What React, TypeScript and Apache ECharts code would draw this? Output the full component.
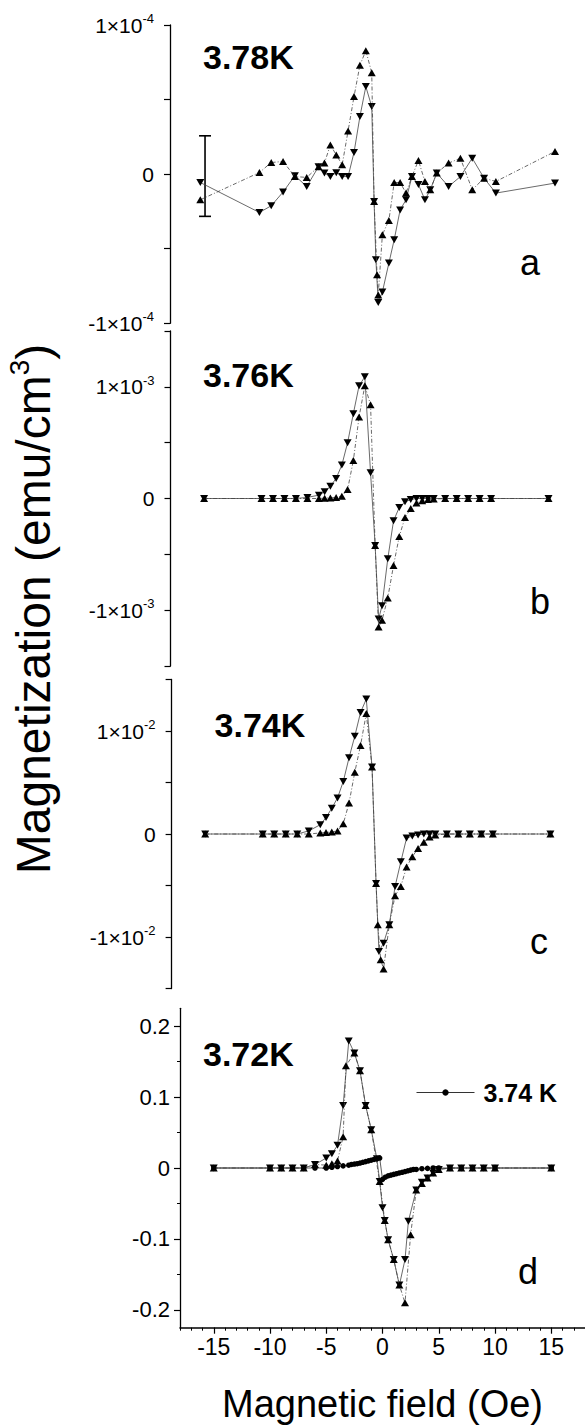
import React, { useEffect, useRef } from "react";
import * as echarts from "echarts";

const FONT = "'Liberation Sans', Arial, Helvetica, sans-serif";

// ---------- Panel a (3.78 K), magnetization in units of 1e-5 emu/cm3 ----------
const aUpX = [-15, -10, -9, -8, -7, -6, -5, -4.5, -4, -3.5, -3, -2.5, -2, -1.5, -1, -0.5, -0.3, -0.05, 0.05, 0.4, 0.95, 1.4, 1.9, 2.4, 2.9, 3.45, 4.0, 4.45, 5, 6, 7, 8, 9, 10, 15];
const aUpY = [-1.72, 0.11, 0.78, 0.85, -0.16, -0.22, 0.5, 0.74, 1.96, 1.29, 0.63, 2.9, 5.2, 7.3, 8.28, 6.8, -1.83, -6.74, -8.1, -4.06, -3.1, -0.56, -0.56, -1.27, -0.16, 0.92, -0.5, -1.05, 0.07, 0.74, 1.07, -1.05, -0.27, -0.49, 1.52];
const aDownX = [-15, -10, -9, -8, -7, -6, -5, -4.5, -4, -3.5, -3, -2.5, -2, -1.5, -1, -0.5, -0.3, -0.15, 0.05, 0.4, 0.95, 1.4, 1.9, 2.4, 2.9, 3.45, 4.0, 4.45, 5, 6, 7, 8, 9, 10, 15];
const aDownY = [-0.56, -2.57, -2.12, -1.2, -0.1, -0.83, 0.5, 0.07, -0.16, 0.1, -0.16, -0.16, 1.45, 3.86, 5.87, 4.53, -1.83, -5.74, -8.6, -7.9, -5.96, -4.4, -2.4, -1.72, -0.16, -0.7, -1.72, -1.05, 0.07, -0.83, -0.16, 1.07, -0.27, -1.27, -0.6];
// error bar: x, low, high (units 1e-5)
const aErrX = [-14.6];
const aErrLow = [-2.83];
const aErrHigh = [2.57];

// ---------- Panel b (3.76 K), units of 1e-3 ----------
const bX = [-15, -10, -9, -8, -7, -6, -5, -4.5, -4, -3.5, -3, -2.5, -2, -1.5, -1, -0.5, -0.1, 0.2, 0.5, 1, 1.5, 2, 2.5, 3, 3.5, 4, 4.5, 5, 6, 7, 8, 9, 10, 15];
const bUpY = [0, 0, 0, 0, 0, 0, 0, 0.003, 0.005, 0.01, 0.02, 0.08, 0.34, 0.73, 1.01, 0.84, -0.42, -1.15, -1.09, -0.89, -0.6, -0.34, -0.17, -0.09, -0.04, -0.02, -0.01, -0.005, 0, 0, 0, 0, 0, 0];
const bDownY = [0, 0, 0, 0, 0, 0.01, 0.03, 0.06, 0.11, 0.18, 0.3, 0.5, 0.76, 1.01, 1.09, 0.23, -0.42, -1.08, -0.96, -0.54, -0.2, -0.08, -0.03, -0.01, 0, 0, 0, 0, 0, 0, 0, 0, 0, 0];

// ---------- Panel c (3.74 K), units of 1e-2 ----------
const cUpX = [-15, -10, -9, -8, -7, -6, -5, -4.5, -4, -3.5, -3, -2.5, -2, -1.5, -1, -0.5, -0.15, 0, 0.25, 0.5, 1, 1.5, 2, 2.5, 3, 3.5, 4, 4.5, 5, 6, 7, 8, 9, 10, 15];
const cUpY = [0, 0, 0, 0, 0, 0, 0.01, 0.015, 0.02, 0.03, 0.1, 0.3, 0.6, 0.86, 1.17, 0.65, -0.48, -0.88, -1.22, -1.31, -0.88, -0.6, -0.51, -0.32, -0.22, -0.14, -0.08, -0.03, -0.01, 0, 0, 0, 0, 0, 0];
const cDownX = [-15, -10, -9, -8, -7, -6, -5, -4.5, -4, -3.5, -3, -2.5, -2, -1.5, -1, -0.5, -0.15, 0.1, 0.5, 1, 1.5, 2, 2.5, 3, 3.5, 4, 4.5, 5, 6, 7, 8, 9, 10, 15];
const cDownY = [0, 0, 0, 0, 0, 0.03, 0.09, 0.16, 0.25, 0.35, 0.51, 0.74, 0.95, 1.18, 1.31, 0.65, -0.48, -1.14, -1.06, -0.88, -0.51, -0.27, -0.04, -0.02, -0.01, 0, 0, 0, 0, 0, 0, 0, 0, 0];

// ---------- Panel d (3.72 K), emu/cm3 ----------
const dUpX = [-15, -10, -9, -8, -7, -6, -5, -4.5, -4, -3.5, -3.25, -2.5, -2, -1.5, -1, -0.25, 0.2, 0.5, 1, 1.5, 2, 2.5, 3, 3.5, 4, 4.5, 5, 6, 7, 8, 9, 10, 15];
const dUpY = [0, 0, 0, 0, 0, 0.005, 0.004, 0.006, 0.01, 0.044, 0.144, 0.162, 0.137, 0.088, 0.054, -0.019, -0.074, -0.101, -0.129, -0.165, -0.19, -0.094, -0.031, -0.022, -0.014, -0.007, -0.002, 0, 0, 0, 0, 0, 0];
const dDownX = [-15, -10, -9, -8, -7, -6, -5, -4.5, -4, -3.5, -3, -2.5, -2, -1.5, -1, -0.5, -0.25, 0, 0.2, 0.5, 1, 1.5, 2, 2.3, 3, 3.5, 4, 4.5, 5, 6, 7, 8, 9, 10, 15];
const dDownY = [0, 0, 0, 0, 0, 0.005, 0.014, 0.02, 0.032, 0.088, 0.179, 0.162, 0.137, 0.088, 0.054, 0.013, -0.019, -0.056, -0.074, -0.101, -0.129, -0.165, -0.129, -0.075, -0.031, -0.02, -0.014, -0.007, -0.002, 0, 0, 0, 0, 0, 0];
// 3.74 K comparison curve in panel d
const dRefX = [-15, -10, -9, -8, -7, -6, -5, -4.5, -4, -3.5, -3, -2.75, -2.5, -2.25, -2, -1.75, -1.5, -1.25, -1, -0.75, -0.5, -0.25, 0, 0.25, 0.5, 0.75, 1, 1.25, 1.5, 1.75, 2, 2.25, 2.5, 2.75, 3, 3.5, 4, 4.5, 5, 6, 7, 8, 9, 10, 15];
const dRefY = [0, 0, 0, 0, 0, 0, 0, 0.001, 0.002, 0.003, 0.004, 0.005, 0.0055, 0.006, 0.007, 0.008, 0.009, 0.01, 0.011, 0.012, 0.013, 0.014, -0.016, -0.013, -0.011, -0.01, -0.009, -0.008, -0.007, -0.006, -0.005, -0.004, -0.003, -0.002, -0.002, -0.001, -0.0005, 0, 0, 0, 0, 0, 0, 0, 0];

// ---------- Tick labels ----------
const dXTickLabels = [-15, -10, -5, 0, 5, 10, 15];
const dXMajorTicks = [-15, -10, -5, 0, 5, 10, 15];
const dYLabels = [-0.2, -0.1, 0, 0.1, 0.2];
const dYMinorTicks = [-0.15, -0.05, 0.05, 0.15];

const temps = ["3.78K", "3.76K", "3.74K", "3.72K"];
const panelLetters = ["a", "b", "c", "d"];
const legendName = "3.74 K";

function pairs(xs: number[], ys: number[]) {
  return xs.map((x, i) => [x, ys[i]]);
}

function expFormatter(unit: number, exp: string) {
  return (v: number) => {
    const r = v / unit;
    if (Math.abs(r - 1) < 1e-6) return `{m|1×10}{s|${exp}}`;
    if (Math.abs(r + 1) < 1e-6) return `{m|-1×10}{s|${exp}}`;
    if (Math.abs(r) < 1e-6) return "{m|0}";
    return "";
  };
}

const expRich = {
  m: { fontSize: 21, fontFamily: FONT, color: "#000", lineHeight: 26 },
  s: { fontSize: 13, fontFamily: FONT, color: "#000", lineHeight: 13, verticalAlign: "top" },
};

export default function App() {
  const ref = useRef<HTMLDivElement>(null);
  useEffect(() => {
    document.body.style.margin = "0";
    const chart = echarts.init(ref.current!, null, { renderer: "svg", width: 585, height: 1427 });

    const grids = [
      { left: 200.3, top: 25, width: 354.7, height: 298.3 },
      { left: 204.1, top: 331, width: 344.4, height: 335 },
      { left: 205.2, top: 679.5, width: 345.2, height: 309 },
      { left: 180, top: 1008.3, width: 408.6, height: 319.4 },
    ];

    const hiddenX = (gi: number) => ({
      type: "value", gridIndex: gi, min: -15, max: 15, show: false,
    });

    const panelY = (gi: number, R: number, interval: number, unit: number, exp: string, offset: number) => ({
      type: "value", gridIndex: gi, min: -R, max: R, interval, offset, position: "left",
      axisLine: { show: true, onZero: false, lineStyle: { color: "#000", width: 1.3 } },
      axisTick: { show: true, length: 6, lineStyle: { color: "#000", width: 1.2 } },
      splitLine: { show: false },
      axisLabel: { margin: 16, formatter: expFormatter(unit, exp), rich: expRich },
    });

    const lineUp = { color: "#444", width: 0.8, type: [4, 2, 1, 2] };
    const lineDown = { color: "#444", width: 0.8, type: "solid" };

    const triSeries = (name: string, xi: number, data: number[][], up: boolean) => ({
      name, type: "line", xAxisIndex: xi, yAxisIndex: xi, data,
      symbol: "triangle", symbolSize: [8, 7], symbolRotate: up ? 0 : 180,
      itemStyle: { color: "#000" }, lineStyle: up ? lineUp : lineDown,
      z: up ? 3 : 2,
    });

    const option: any = {
      animation: false,
      backgroundColor: "#fff",
      textStyle: { fontFamily: FONT },
      grid: grids,
      xAxis: [
        hiddenX(0), hiddenX(1), hiddenX(2),
        {
          type: "value", gridIndex: 3, min: -18, max: 18, interval: 1, position: "bottom",
          axisLine: { show: true, onZero: false, lineStyle: { color: "#000", width: 1.6 } },
          axisTick: { show: true, length: 3, lineStyle: { color: "#000", width: 1 } },
          splitLine: { show: false },
          axisLabel: { customValues: dXTickLabels, fontSize: 23, color: "#000", fontFamily: FONT, margin: 8 },
          name: "Magnetic field (Oe)", nameLocation: "middle", nameGap: 57,
          nameTextStyle: { fontSize: 38, color: "#000", fontFamily: FONT },
        },
        {
          type: "value", gridIndex: 3, min: -18, max: 18, position: "bottom",
          axisLine: { show: false, onZero: false },
          axisTick: { show: true, length: 6, customValues: dXMajorTicks, lineStyle: { color: "#000", width: 1.2 } },
          axisLabel: { show: false }, splitLine: { show: false },
        },
      ],
      yAxis: [
        panelY(0, 10, 5, 10, "-4", 30.3),
        panelY(1, 1.5, 0.5, 1, "-3", 33.6),
        panelY(2, 1.5, 0.5, 1, "-2", 33.6),
        {
          type: "value", gridIndex: 3, min: -0.225, max: 0.225, position: "left",
          axisLine: { show: true, onZero: false, lineStyle: { color: "#000", width: 1.3 } },
          axisTick: { show: true, length: 6, customValues: dYLabels, lineStyle: { color: "#000", width: 1.2 } },
          splitLine: { show: false },
          axisLabel: {
            customValues: dYLabels, fontSize: 22, color: "#000", fontFamily: FONT, margin: 10,
            formatter: (v: number) => (Math.abs(v) < 1e-9 ? "0" : v.toFixed(1)),
          },
        },
        {
          type: "value", gridIndex: 3, min: -0.225, max: 0.225, position: "left",
          axisLine: { show: false, onZero: false },
          axisTick: { show: true, length: 3, customValues: dYMinorTicks, lineStyle: { color: "#000", width: 1 } },
          axisLabel: { show: false }, splitLine: { show: false },
        },
      ],
      legend: {
        show: true, data: [legendName], left: 411, top: 1075, itemWidth: 58, itemHeight: 8,
        lineStyle: { width: 1, color: "#333" },
        textStyle: { fontSize: 25, fontWeight: "bold", color: "#000", fontFamily: FONT, padding: [0, 0, 0, 4] },
      },
      series: [
        triSeries("a-down", 0, pairs(aDownX, aDownY), false),
        triSeries("a-up", 0, pairs(aUpX, aUpY), true),
        {
          name: "a-err", type: "custom", xAxisIndex: 0, yAxisIndex: 0,
          data: aErrX.map((x, i) => [x, aErrLow[i], aErrHigh[i]]),
          encode: { x: 0, y: [1, 2] },
          renderItem: (params: any, api: any) => {
            const x = api.value(0);
            const lo = api.coord([x, api.value(1)]);
            const hi = api.coord([x, api.value(2)]);
            const st = { stroke: "#000", lineWidth: 1.6 };
            return {
              type: "group",
              children: [
                { type: "line", shape: { x1: lo[0], y1: lo[1], x2: hi[0], y2: hi[1] }, style: st },
                { type: "line", shape: { x1: lo[0] - 6, y1: lo[1], x2: lo[0] + 6, y2: lo[1] }, style: st },
                { type: "line", shape: { x1: hi[0] - 6, y1: hi[1], x2: hi[0] + 6, y2: hi[1] }, style: st },
              ],
            };
          },
        },
        triSeries("b-down", 1, pairs(bX, bDownY), false),
        triSeries("b-up", 1, pairs(bX, bUpY), true),
        triSeries("c-down", 2, pairs(cDownX, cDownY), false),
        triSeries("c-up", 2, pairs(cUpX, cUpY), true),
        triSeries("d-down", 3, pairs(dDownX, dDownY), false),
        triSeries("d-up", 3, pairs(dUpX, dUpY), true),
        {
          name: legendName, type: "line", xAxisIndex: 3, yAxisIndex: 3, data: pairs(dRefX, dRefY),
          symbol: "circle", symbolSize: 5.5, itemStyle: { color: "#000" },
          lineStyle: { color: "#333", width: 0.8 }, z: 4,
        },
      ],
      graphic: [
        {
          type: "text", x: 33, y: 609, rotation: Math.PI / 2,
          style: {
            text: "{t|Magnetization (emu/cm}{s|3}{t|)}",
            rich: {
              t: { fontSize: 48, fontFamily: FONT, fill: "#000", lineHeight: 56 },
              s: { fontSize: 28, fontFamily: FONT, fill: "#000", lineHeight: 30, verticalAlign: "top" },
            },
            align: "center", verticalAlign: "middle", fill: "#000",
          },
        },
        ...[[203, 57], [203, 375], [214.6, 725], [203, 1054]].map((p, i) => ({
          type: "text", x: p[0], y: p[1],
          style: { text: temps[i], font: `bold 34px ${FONT}`, fill: "#000", align: "left", verticalAlign: "middle" },
        })),
        ...[[520, 262], [530, 601], [530, 941], [518, 1271]].map((p, i) => ({
          type: "text", x: p[0], y: p[1],
          style: { text: panelLetters[i], font: `36px ${FONT}`, fill: "#000", align: "left", verticalAlign: "middle" },
        })),
      ],
    };

    chart.setOption(option);
    return () => chart.dispose();
  }, []);
  return <div ref={ref} style={{ width: 585, height: 1427 }} />;
}
